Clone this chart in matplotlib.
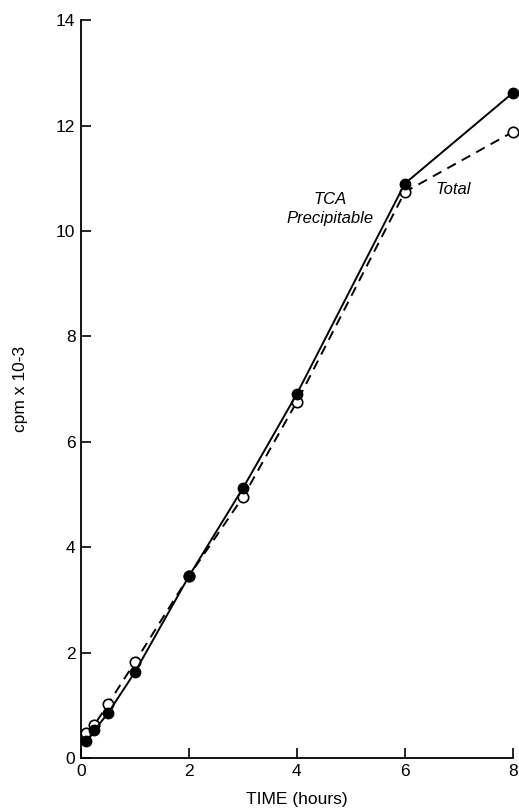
import matplotlib.pyplot as plt

plt.rcParams['font.family'] = ['Liberation Sans', 'DejaVu Sans']

# time points (hours)
time_tca = [0.1, 0.25, 0.5, 1, 2, 3, 4, 6, 8]
time_total = [0.1, 0.25, 0.5, 1, 2, 3, 4, 6, 8]

# counts, cpm x 10^-3
cpm_tca = [0.32, 0.53, 0.85, 1.63, 3.45, 5.12, 6.91, 10.90, 12.62]
cpm_total = [0.47, 0.63, 1.02, 1.82, 3.45, 4.95, 6.76, 10.74, 11.88]

fig = plt.figure(figsize=(5.19, 8.09), dpi=100)
ax = fig.add_axes([0.156, 0.063, 0.832, 0.912])

# total counts: dashed line, open circles
ax.plot(time_total, cpm_total, color='black', linestyle=(0, (5, 3.5)), linewidth=1.4,
        marker='o', markersize=7.5, markerfacecolor='white', markeredgecolor='black',
        markeredgewidth=1.2, zorder=2, clip_on=False)
# TCA precipitable: solid line, filled circles
ax.plot(time_tca, cpm_tca, color='black', linestyle='-', linewidth=1.4,
        marker='o', markersize=7.5, markerfacecolor='black', markeredgecolor='black',
        zorder=3, clip_on=False)

ax.text(4.61, 10.59, 'TCA', style='italic', fontsize=12, ha='center', va='center')
ax.text(4.61, 10.23, 'Precipitable', style='italic', fontsize=12, ha='center', va='center')
ax.text(6.9, 10.78, 'Total', style='italic', fontsize=12, ha='center', va='center')

ax.set_xlim(0, 8)
ax.set_ylim(0, 14)
ax.set_xticks([0, 2, 4, 6, 8])
ax.set_yticks([0, 2, 4, 6, 8, 10, 12, 14])
ax.tick_params(direction='in', length=7, width=1.2, labelsize=12.5, pad=4)

for side in ['top', 'right']:
    ax.spines[side].set_visible(False)
for side in ['left', 'bottom']:
    ax.spines[side].set_linewidth(1.3)

ax.set_xlabel('TIME (hours)', fontsize=12.5, labelpad=10)
ax.set_ylabel('cpm x 10-3', fontsize=12.5, labelpad=20)

fig.savefig('out.png', dpi=100)
